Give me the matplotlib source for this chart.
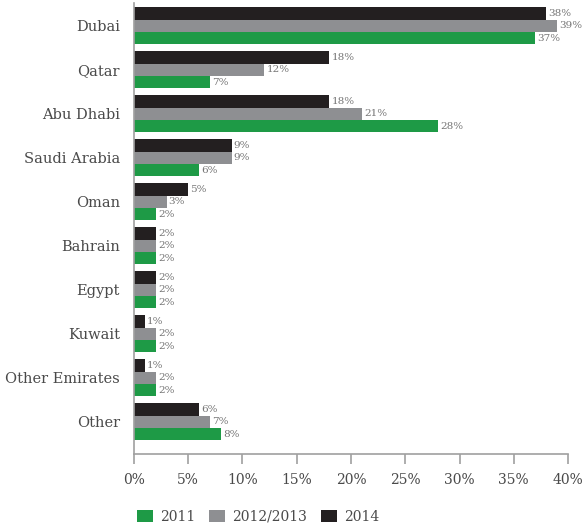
# Grouped horizontal bar chart: share by market, three periods
import numpy as np
import matplotlib.pyplot as plt
from matplotlib.ticker import FuncFormatter

plt.rcParams['font.family'] = ['DejaVu Serif']

markets = ["Dubai", "Qatar", "Abu Dhabi", "Saudi Arabia", "Oman",
           "Bahrain", "Egypt", "Kuwait", "Other Emirates", "Other"]
share_2014 = [38, 18, 18, 9, 5, 2, 2, 1, 1, 6]
share_2012_13 = [39, 12, 21, 9, 3, 2, 2, 2, 2, 7]
share_2011 = [37, 7, 28, 6, 2, 2, 2, 2, 2, 8]

c_green = "#1e9a46"
c_gray = "#8e8f92"
c_black = "#231f20"
txt = "#4a4a4a"

fig = plt.figure(figsize=(5.83, 5.26), dpi=100)
ax = fig.add_axes([0.2298, 0.1369, 0.7445, 0.8574])

y = np.arange(len(markets))
h = 0.28
series = [(share_2014, c_black, "2014", -h),
          (share_2012_13, c_gray, "2012/2013", 0),
          (share_2011, c_green, "2011", h)]
bars = {}
for vals, col, lab, off in series:
    b = ax.barh(y + off, vals, height=h, color=col, label=lab)
    bars[lab] = b
    for yy, v in zip(y + off, vals):
        ax.text(v + 0.2, yy, f"{v}%", va="center", ha="left",
                fontsize=7.5, color="#767676")

ax.set_ylim(len(markets) - 1 + 0.73, -0.52)
ax.set_xlim(0, 40)
ax.set_xticks(range(0, 41, 5))
ax.xaxis.set_major_formatter(FuncFormatter(lambda v, p: f"{int(v)}%"))
ax.set_yticks(y)
ax.set_yticklabels(markets)

for s in ["top", "right"]:
    ax.spines[s].set_visible(False)
for s in ["left", "bottom"]:
    ax.spines[s].set_color("#a0a0a0")
    ax.spines[s].set_linewidth(1.2)

ax.tick_params(axis="y", length=0, pad=10, labelsize=10.5, labelcolor=txt)
ax.tick_params(axis="x", direction="out", length=7, width=1.2,
               color="#a0a0a0", pad=7, labelsize=10, labelcolor=txt)

handles = [bars["2011"], bars["2012/2013"], bars["2014"]]
fig.legend(handles, ["2011", "2012/2013", "2014"], loc="lower left",
           bbox_to_anchor=(0.235, 0.004), ncol=3, frameon=False,
           borderpad=0, borderaxespad=0,
           handlelength=1.15, handleheight=0.95, handletextpad=0.5,
           columnspacing=1.0, prop={"size": 10}, labelcolor=txt)

fig.savefig("out.png", dpi=100)
